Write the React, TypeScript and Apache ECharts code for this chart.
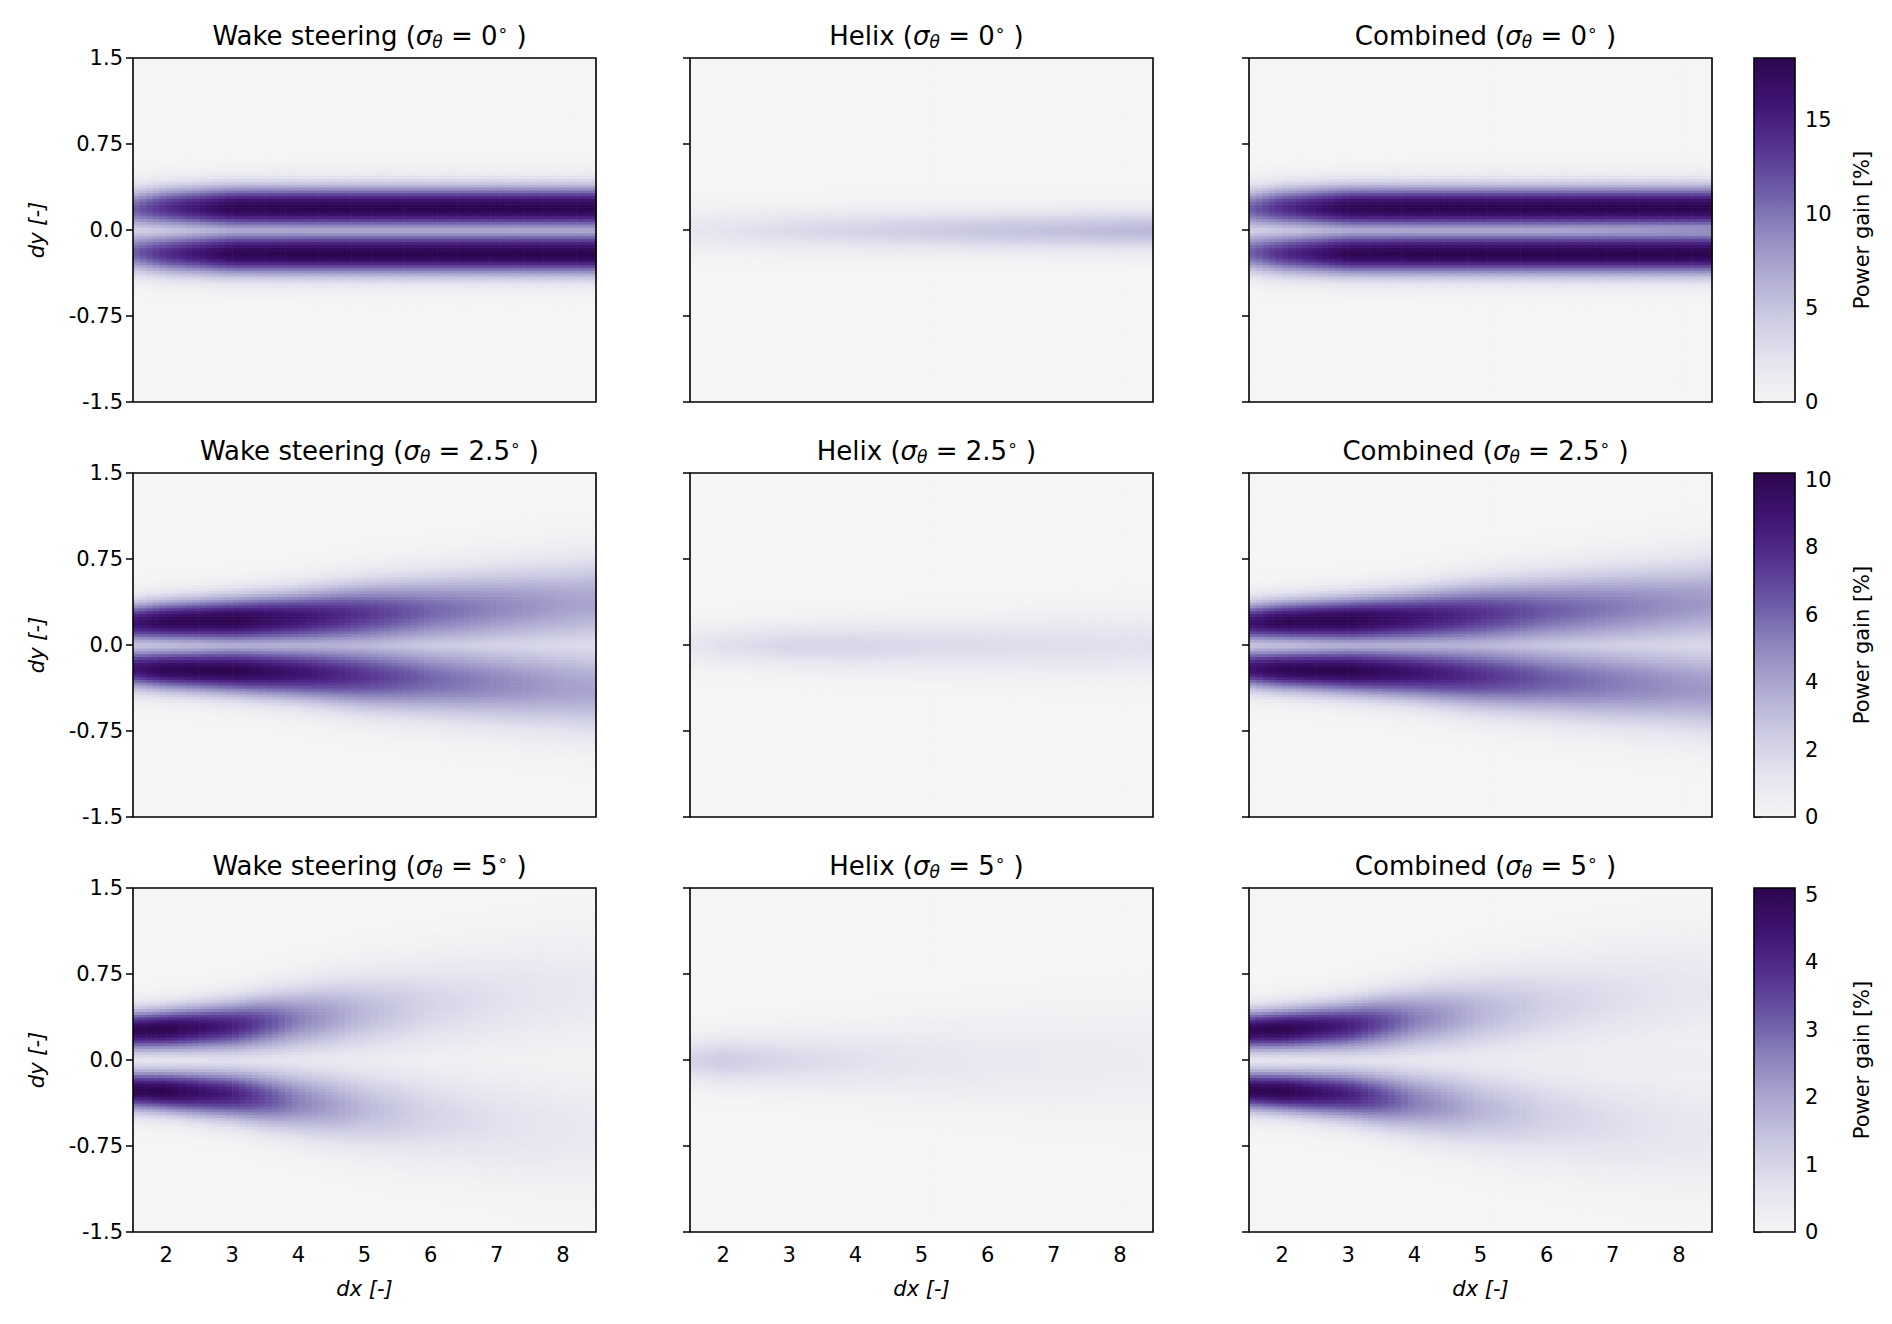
import React, { useEffect, useRef } from 'react';
import * as echarts from 'echarts';

const dxKnots = [1.5, 2, 3, 4, 5, 6, 7, 8, 8.5];
const rowMax = [18.3, 10.2, 5.1];
const sigmaLabels = ['0', '2.5', '5'];
const colNames = ['Wake steering', 'Helix', 'Combined'];
const colorbarTicks = [[0, 5, 10, 15], [0, 2, 4, 6, 8, 10], [0, 1, 2, 3, 4, 5]];

// two-lobe (steering) profiles: peak, lobe offset, lobe width
const wsPeak = [[11, 14, 18, 18.3, 18.3, 18.3, 18.3, 18.3, 18.3], [9, 10, 10.2, 9, 7.5, 6, 5, 4.2, 4], [5, 5.1, 4.2, 2.6, 1.6, 1.0, 0.7, 0.5, 0.45]];
const wsOffset = [[0.19, 0.2, 0.2, 0.2, 0.2, 0.2, 0.2, 0.2, 0.2], [0.2, 0.21, 0.22, 0.24, 0.27, 0.3, 0.33, 0.36, 0.38], [0.26, 0.27, 0.3, 0.36, 0.42, 0.48, 0.54, 0.6, 0.62]];
const wsWidth = [[0.12, 0.125, 0.13, 0.13, 0.13, 0.13, 0.13, 0.13, 0.13], [0.12, 0.125, 0.14, 0.16, 0.19, 0.21, 0.23, 0.25, 0.26], [0.12, 0.125, 0.15, 0.19, 0.23, 0.26, 0.29, 0.32, 0.33]];
// single centre lobe (helix): peak, width
const hxPeak = [[1.8, 2.2, 3, 3.6, 4.2, 4.8, 5.2, 5.6, 5.8], [1.0, 1.4, 1.9, 1.9, 1.7, 1.6, 1.5, 1.4, 1.4], [1.0, 1.2, 0.9, 0.7, 0.55, 0.45, 0.4, 0.35, 0.33]];
const hxWidth = [[0.12, 0.12, 0.12, 0.12, 0.12, 0.12, 0.12, 0.12, 0.12], [0.12, 0.12, 0.13, 0.14, 0.15, 0.16, 0.17, 0.18, 0.18], [0.13, 0.14, 0.16, 0.19, 0.22, 0.25, 0.28, 0.3, 0.31]];
// combined: steering lobes scale + helix scale in the middle
const cbSteer = [[1, 1, 1, 1, 1, 1, 1, 1, 1], [1, 1, 1, 1, 1.02, 1.05, 1.08, 1.1, 1.1], [1, 1, 1, 1.02, 1.05, 1.08, 1.1, 1.1, 1.1]];
const cbHelix = [[1.6, 1.6, 1.5, 1.5, 1.5, 1.5, 1.5, 1.5, 1.5], [0.8, 0.8, 0.8, 0.9, 1, 1, 1, 1, 1], [0.6, 0.6, 0.6, 0.7, 0.8, 0.8, 0.8, 0.8, 0.8]];

const palette = ['#f5f5f5', '#e4e3ef', '#cbcae2', '#aeaad2', '#8d86bd', '#6b58a6', '#54308f', '#3e1372', '#2d064f'];

const lerp = (arr: number[], x: number) => {
  for (let i = 0; i < dxKnots.length - 1; i++) {
    if (x <= dxKnots[i + 1]) {
      const t = (x - dxKnots[i]) / (dxKnots[i + 1] - dxKnots[i]);
      return arr[i] + t * (arr[i + 1] - arr[i]);
    }
  }
  return arr[arr.length - 1];
};
const g = (y: number, s: number) => Math.exp(-(y * y) / (2 * s * s));

const steer = (r: number, x: number, y: number) => {
  const o = lerp(wsOffset[r], x), s = lerp(wsWidth[r], x);
  return lerp(wsPeak[r], x) * (Math.max(g(y - o, s), g(y + o, s)) * 0.85 + 0.15 * (g(y - o, s) + g(y + o, s)));
};
const helix = (r: number, x: number, y: number) => lerp(hxPeak[r], x) * g(y, lerp(hxWidth[r], x));

const CW = 0.1, CH = 0.025;
const NX = 70, NY = 120;
const cells = (r: number, c: number) => {
  const out: number[][] = [];
  for (let i = 0; i < NX; i++) {
    const x = 1.5 + CW * (i + 0.5);
    for (let j = 0; j < NY; j++) {
      const y = -1.5 + CH * (j + 0.5);
      let v = 0;
      if (c === 0) v = steer(r, x, y);
      else if (c === 1) v = helix(r, x, y);
      else v = Math.max(steer(r, x, y) * lerp(cbSteer[r], x), helix(r, x, y) * lerp(cbHelix[r], x));
      out.push([x, y, Math.min(v, rowMax[r])]);
    }
  }
  return out;
};

const lefts = [133, 690, 1249];
const tops = [58, 473, 888];
const W = 463, H = 344;
const FONT = 'DejaVu Sans';

export default function App() {
  const ref = useRef<HTMLDivElement>(null);
  useEffect(() => {
    document.body.style.margin = '0';
    if (!ref.current) return;
    const chart = echarts.init(ref.current, undefined, { renderer: 'svg' });
    const grid: any[] = [], xAxis: any[] = [], yAxis: any[] = [], series: any[] = [], visualMap: any[] = [], title: any[] = [];
    for (let r = 0; r < 3; r++) {
      for (let c = 0; c < 3; c++) {
        const gi = grid.length;
        grid.push({ left: lefts[c], top: tops[r], width: W, height: H, show: true, borderColor: '#000', borderWidth: 1.6, backgroundColor: 'transparent', z: 5 });
        xAxis.push({
          type: 'value', gridIndex: gi, min: 1.5, max: 8.5,
          name: r === 2 ? 'dx [-]' : '', nameLocation: 'middle', nameGap: 46,
          nameTextStyle: { fontFamily: FONT, fontSize: 21, fontStyle: 'italic', color: '#000' },
          axisLine: { show: false }, splitLine: { show: false },
          axisTick: { show: true, length: 7, lineStyle: { color: '#000', width: 1.5 }, customValues: [2, 3, 4, 5, 6, 7, 8] },
          axisLabel: { show: r === 2, fontFamily: FONT, fontSize: 21, color: '#000', margin: 12, customValues: [2, 3, 4, 5, 6, 7, 8] },
        });
        yAxis.push({
          type: 'value', gridIndex: gi, min: -1.5, max: 1.5, interval: 0.75,
          name: c === 0 ? 'dy [-]' : '', nameLocation: 'middle', nameGap: 86, nameRotate: 90,
          nameTextStyle: { fontFamily: FONT, fontSize: 21, fontStyle: 'italic', color: '#000' },
          axisLine: { show: false }, splitLine: { show: false },
          axisTick: { show: true, length: 7, lineStyle: { color: '#000', width: 1.5 } },
          axisLabel: { show: c === 0, fontFamily: FONT, fontSize: 21, color: '#000', margin: 10, formatter: (v: number) => (v === 0 ? '0.0' : String(v)) },
        });
        series.push({
          type: 'custom', xAxisIndex: gi, yAxisIndex: gi, data: cells(r, c), encode: { x: 0, y: 1 },
          progressive: 0, silent: true,
          renderItem: (_p: any, api: any) => {
            const x = api.value(0), y = api.value(1);
            const a = api.coord([x - CW / 2, y + CH / 2]);
            const b = api.coord([x + CW / 2, y - CH / 2]);
            return { type: 'rect', shape: { x: a[0], y: a[1], width: b[0] - a[0] + 0.6, height: b[1] - a[1] + 0.6 }, style: { fill: api.visual('color'), stroke: null } };
          },
        });
        visualMap.push({ show: false, type: 'continuous', seriesIndex: series.length - 1, dimension: 2, min: 0, max: rowMax[r], inRange: { color: palette } });
        title.push({
          text: `${colNames[c]} ({i|σ}{s|θ}{n| = ${sigmaLabels[r]}}{d|∘}{n| )}`,
          left: lefts[c] + W / 2, top: tops[r] - 42, textAlign: 'center',
          textStyle: {
            fontFamily: FONT, fontSize: 26, fontWeight: 'normal', color: '#000',
            rich: {
              i: { fontFamily: FONT, fontSize: 26, fontStyle: 'italic' },
              s: { fontFamily: FONT, fontSize: 17, fontStyle: 'italic', verticalAlign: 'bottom', padding: [12, 0, 0, 0] },
              n: { fontFamily: FONT, fontSize: 26 },
              d: { fontFamily: FONT, fontSize: 17, verticalAlign: 'top', padding: [0, 0, 10, 0] },
            },
          },
        });
      }
      // colorbar
      const gi = grid.length;
      grid.push({ left: 1754, top: tops[r], width: 41, height: H, show: true, borderColor: '#000', borderWidth: 1.6, backgroundColor: 'transparent', z: 5 });
      xAxis.push({ type: 'value', gridIndex: gi, min: 0, max: 1, show: false });
      yAxis.push({
        type: 'value', gridIndex: gi, min: 0, max: rowMax[r], position: 'right',
        name: 'Power gain [%]', nameLocation: 'middle', nameGap: 56, nameRotate: 90,
        nameTextStyle: { fontFamily: FONT, fontSize: 21, color: '#000' },
        axisLine: { show: false }, splitLine: { show: false },
        axisTick: { show: true, length: 7, lineStyle: { color: '#000', width: 1.5 }, customValues: colorbarTicks[r] },
        axisLabel: { fontFamily: FONT, fontSize: 21, color: '#000', margin: 10, customValues: colorbarTicks[r] },
      });
      const stops = palette.map((col, i) => ({ offset: i / (palette.length - 1), color: col }));
      series.push({
        type: 'custom', xAxisIndex: gi, yAxisIndex: gi, data: [[0, 0]], silent: true,
        renderItem: (p: any) => ({
          type: 'rect',
          shape: { x: p.coordSys.x, y: p.coordSys.y, width: p.coordSys.width, height: p.coordSys.height },
          style: { fill: new echarts.graphic.LinearGradient(0, 1, 0, 0, stops) },
        }),
      });
    }
    chart.setOption({ animation: false, backgroundColor: '#fff', title, grid, xAxis, yAxis, series, visualMap });
    return () => chart.dispose();
  }, []);
  return <div ref={ref} style={{ width: 1892, height: 1324 }} />;
}
